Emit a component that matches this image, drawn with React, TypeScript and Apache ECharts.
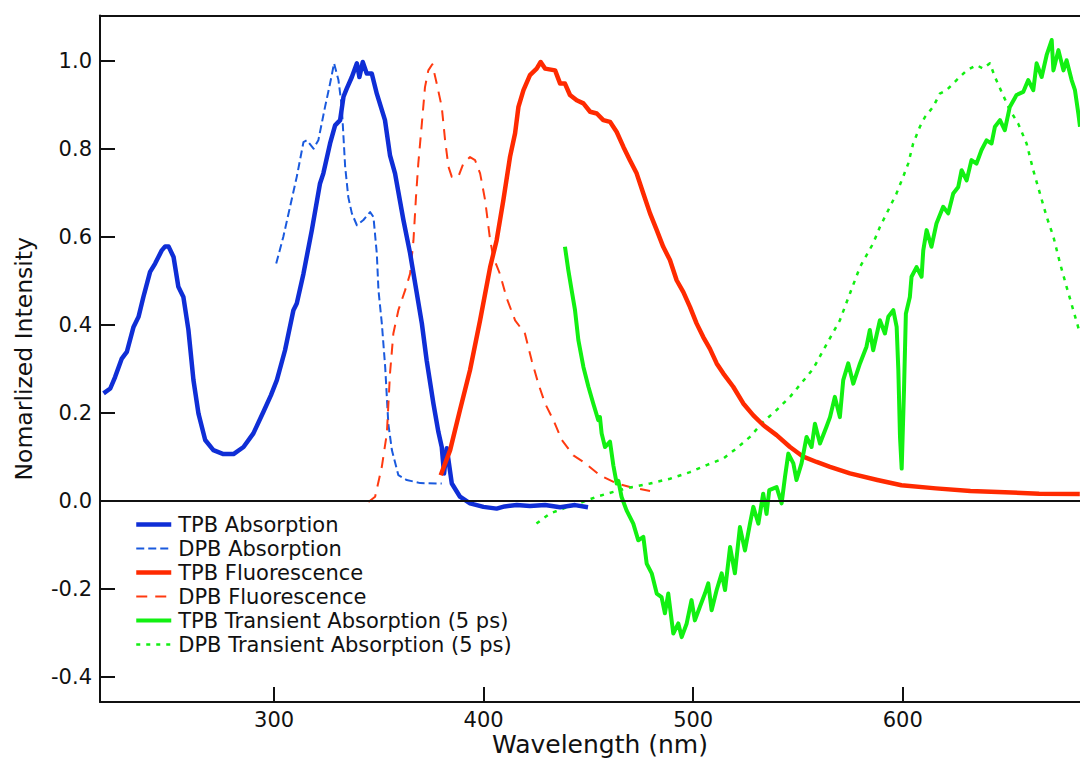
import React, { useEffect, useRef } from "react";
import * as echarts from "echarts";

// ---- Data (wavelength nm, normalized intensity) ----
const tpbAbsorption: [number, number][] = [
  [218.6, 0.244], [221.8, 0.255], [224.1, 0.281], [227.3, 0.323], [229.7, 0.338], [232.9, 0.395],
  [235.3, 0.418], [237.6, 0.463], [240.8, 0.520], [243.2, 0.539], [246.4, 0.569], [248.0, 0.578],
  [249.6, 0.578], [252.0, 0.554], [254.3, 0.486], [256.7, 0.463], [259.1, 0.388], [261.5, 0.274],
  [263.9, 0.198], [267.1, 0.138], [271.0, 0.115], [275.8, 0.106], [280.6, 0.106], [285.4, 0.122],
  [290.1, 0.153], [294.9, 0.202], [298.5, 0.240], [301.3, 0.274], [305.2, 0.342], [309.2, 0.433],
  [310.8, 0.448], [314.0, 0.516], [318.0, 0.615], [321.9, 0.721], [323.5, 0.744], [326.7, 0.812],
  [329.1, 0.853], [331.5, 0.865], [333.1, 0.918], [334.7, 0.937], [337.1, 0.963], [339.5, 0.994],
  [340.7, 0.963], [342.3, 0.997], [344.2, 0.971], [346.6, 0.971], [349.0, 0.925], [352.9, 0.865],
  [355.3, 0.785], [357.7, 0.744], [361.7, 0.638], [364.9, 0.562], [368.1, 0.471], [370.5, 0.403],
  [372.8, 0.319], [376.0, 0.221], [378.4, 0.156], [380.0, 0.122], [381.1, 0.062], [382.4, 0.119],
  [384.8, 0.039], [388.7, 0.009], [393.5, -0.006], [399.9, -0.014], [406.2, -0.018], [410.0, -0.013],
  [415.8, -0.010], [422.1, -0.012], [429.3, -0.010], [436.5, -0.015], [443.6, -0.010], [449.8, -0.015],
];

const dpbAbsorption: [number, number][] = [
  [301.0, 0.539], [304.4, 0.600], [307.6, 0.668], [310.8, 0.736], [314.0, 0.815], [315.6, 0.819],
  [318.8, 0.800], [321.1, 0.819], [324.3, 0.895], [326.7, 0.948], [328.6, 0.994], [330.7, 0.956],
  [332.3, 0.895], [333.9, 0.759], [335.4, 0.690], [337.1, 0.653], [339.5, 0.626], [342.6, 0.638],
  [345.8, 0.656], [347.4, 0.645], [349.0, 0.562], [349.8, 0.478], [351.4, 0.403], [353.0, 0.304],
  [354.5, 0.175], [356.2, 0.115], [359.3, 0.058], [363.3, 0.047], [369.7, 0.040], [380.0, 0.039],
];

const tpbFluorescence: [number, number][] = [
  [379.5, 0.058], [384.0, 0.115], [388.7, 0.206], [393.5, 0.297], [398.3, 0.410], [403.1, 0.531],
  [406.2, 0.592], [409.4, 0.683], [412.6, 0.782], [415.0, 0.835], [416.6, 0.895], [419.0, 0.933],
  [422.1, 0.967], [425.3, 0.982], [427.2, 0.997], [429.3, 0.982], [434.1, 0.978], [436.5, 0.948],
  [438.8, 0.948], [441.2, 0.922], [444.4, 0.910], [447.6, 0.903], [450.8, 0.884], [454.0, 0.880],
  [457.1, 0.865], [460.3, 0.861], [463.5, 0.838], [466.7, 0.804], [469.8, 0.774], [473.0, 0.744],
  [476.2, 0.698], [479.4, 0.653], [482.6, 0.615], [485.7, 0.577], [488.9, 0.547], [492.1, 0.501],
  [495.3, 0.474], [498.5, 0.440], [501.6, 0.403], [504.8, 0.372], [508.0, 0.345], [511.2, 0.312],
  [514.4, 0.289], [519.1, 0.259], [523.9, 0.221], [528.7, 0.194], [533.4, 0.172], [539.8, 0.149],
  [546.2, 0.122], [552.5, 0.100], [558.9, 0.088], [565.3, 0.077], [574.8, 0.062], [587.9, 0.047],
  [599.4, 0.035], [615.8, 0.028], [632.3, 0.022], [648.7, 0.019], [665.1, 0.016], [684.5, 0.015],
];

const dpbFluorescence: [number, number][] = [
  [345.0, -0.003], [348.2, 0.009], [351.4, 0.077], [353.8, 0.153], [355.3, 0.289], [356.9, 0.380],
  [359.3, 0.433], [362.5, 0.478], [364.9, 0.516], [366.5, 0.592], [367.7, 0.690], [368.8, 0.766],
  [370.5, 0.857], [372.0, 0.940], [373.6, 0.978], [375.5, 0.992], [377.6, 0.948], [380.0, 0.895],
  [381.6, 0.819], [383.2, 0.759], [384.8, 0.736], [387.9, 0.736], [390.3, 0.766], [393.5, 0.781],
  [395.9, 0.774], [398.3, 0.744], [400.7, 0.683], [403.1, 0.592], [404.6, 0.554], [407.8, 0.515],
  [411.0, 0.460], [415.0, 0.410], [419.7, 0.380], [422.9, 0.319], [426.1, 0.266], [429.3, 0.221],
  [433.3, 0.183], [437.3, 0.138], [442.8, 0.103], [447.6, 0.088], [455.5, 0.058], [463.5, 0.039],
  [469.8, 0.031], [479.4, 0.022],
];

const tpbTransient: [number, number][] = [
  [438.8, 0.577], [440.4, 0.524], [442.0, 0.478], [443.6, 0.433], [445.2, 0.365], [447.6, 0.304],
  [450.0, 0.259], [452.3, 0.221], [454.7, 0.183], [455.5, 0.190], [456.3, 0.153], [457.9, 0.122],
  [460.3, 0.134], [461.9, 0.080], [463.5, 0.039], [464.3, 0.045], [465.8, 0.009], [468.2, -0.022],
  [471.4, -0.052], [473.8, -0.090], [476.2, -0.082], [477.8, -0.143], [480.2, -0.165], [482.6, -0.211],
  [484.9, -0.219], [486.5, -0.256], [488.1, -0.211], [490.5, -0.302], [492.9, -0.279], [494.5, -0.310],
  [496.9, -0.279], [499.2, -0.226], [500.8, -0.272], [503.2, -0.241], [505.6, -0.211], [507.2, -0.188],
  [508.8, -0.249], [511.2, -0.203], [513.6, -0.165], [515.2, -0.203], [517.6, -0.105], [519.9, -0.165],
  [522.3, -0.060], [524.7, -0.113], [527.1, -0.052], [528.7, -0.014], [531.1, -0.052], [533.4, 0.016],
  [535.0, -0.030], [536.3, 0.024], [539.8, 0.031], [542.2, -0.006], [543.8, 0.054], [545.4, 0.107],
  [547.8, 0.085], [549.3, 0.047], [551.7, 0.085], [554.1, 0.145], [556.5, 0.122], [558.1, 0.175],
  [560.5, 0.130], [563.6, 0.168], [565.3, 0.190], [567.6, 0.236], [570.0, 0.190], [571.6, 0.274],
  [574.0, 0.312], [576.4, 0.266], [579.6, 0.312], [582.7, 0.350], [584.3, 0.388], [585.9, 0.342],
  [589.1, 0.410], [591.5, 0.380], [593.1, 0.418], [595.5, 0.433], [597.1, 0.395], [597.9, 0.297],
  [598.7, 0.145], [599.5, 0.073], [600.6, 0.251], [601.5, 0.425], [603.4, 0.463], [604.2, 0.509],
  [606.6, 0.531], [609.0, 0.509], [609.8, 0.569], [611.4, 0.615], [613.7, 0.577], [616.1, 0.630],
  [619.3, 0.668], [621.7, 0.653], [624.1, 0.698], [626.5, 0.713], [628.1, 0.751], [630.5, 0.728],
  [632.8, 0.774], [635.2, 0.766], [637.6, 0.797], [640.0, 0.819], [642.4, 0.812], [644.0, 0.850],
  [646.4, 0.865], [648.7, 0.842], [651.1, 0.895], [654.3, 0.922], [657.5, 0.929], [659.9, 0.956],
  [662.3, 0.933], [663.9, 0.994], [666.3, 0.963], [668.7, 1.013], [671.1, 1.047], [671.9, 0.978],
  [674.3, 1.024], [676.7, 0.978], [678.2, 1.001], [680.6, 0.956], [682.2, 0.933], [683.8, 0.880],
  [684.6, 0.850],
];

const dpbTransient: [number, number][] = [
  [425.2, -0.052], [431.7, -0.029], [438.0, -0.018], [446.0, -0.005], [454.0, 0.009], [461.9, 0.020],
  [469.8, 0.030], [479.4, 0.039], [488.9, 0.050], [498.5, 0.065], [506.4, 0.081], [514.4, 0.096],
  [520.7, 0.119], [527.1, 0.145], [533.4, 0.179], [539.8, 0.206], [546.2, 0.236], [550.9, 0.263],
  [557.3, 0.300], [563.6, 0.355], [570.0, 0.410], [574.8, 0.471], [579.6, 0.531], [585.9, 0.585],
  [589.1, 0.622], [593.9, 0.668], [597.0, 0.698], [600.2, 0.736], [602.6, 0.766], [605.0, 0.812],
  [608.2, 0.850], [610.6, 0.872], [614.5, 0.895], [617.7, 0.925], [620.9, 0.933], [625.7, 0.956],
  [630.5, 0.978], [635.2, 0.990], [638.4, 0.982], [641.6, 0.994], [644.0, 0.963], [647.2, 0.929],
  [651.1, 0.888], [655.1, 0.857], [659.1, 0.812], [662.3, 0.751], [665.5, 0.698], [668.7, 0.645],
  [671.9, 0.600], [675.1, 0.539], [678.2, 0.486], [681.4, 0.433], [684.6, 0.380],
];

const xTicks = [300, 400, 500, 600];
const yTicks = [-0.4, -0.2, 0, 0.2, 0.4, 0.6, 0.8, 1.0];

const FONT = "DejaVu Sans";

export default function App() {
  const ref = useRef<HTMLDivElement>(null);

  useEffect(() => {
    if (!ref.current) return;
    const chart = echarts.init(ref.current, undefined, { renderer: "svg" });
    const axisLineStyle = { color: "#111", width: 2 };
    const xMin = 216.9;
    const xMax = 684.6;

    const lineSeries = (
      name: string,
      data: [number, number][],
      color: string,
      width: number,
      type: any,
      z: number
    ) => ({
      name,
      type: "line",
      data,
      symbol: "none",
      showSymbol: false,
      smooth: false,
      z,
      itemStyle: { color },
      lineStyle: { color, width, type, cap: "butt", join: "round" },
      emphasis: { disabled: true },
    });

    const option: any = {
      animation: false,
      backgroundColor: "#fff",
      grid: {
        left: 100,
        right: 0,
        top: 15.6,
        bottom: 57,
        containLabel: false,
        outerBoundsMode: "none",
      },
      xAxis: [
        {
          type: "value",
          min: xMin,
          max: xMax,
          position: "bottom",
          name: "Wavelength (nm)",
          nameLocation: "middle",
          nameGap: 30,
          nameMoveOverlap: false,
          nameTextStyle: {
            fontFamily: FONT,
            fontSize: 25,
            lineHeight: 25,
            color: "#111",
            verticalAlign: "top",
            padding: [0, 0, 0, 20],
          },
          axisLine: { show: true, onZero: false, lineStyle: axisLineStyle },
          axisTick: { show: true, inside: true, length: 15, lineStyle: axisLineStyle, customValues: xTicks },
          axisLabel: {
            show: true,
            margin: 7,
            fontFamily: FONT,
            fontSize: 21,
            lineHeight: 21,
            color: "#111",
            customValues: xTicks,
            formatter: (v: number) => String(Math.round(v)),
          },
          splitLine: { show: false },
        },
        {
          type: "value",
          min: xMin,
          max: xMax,
          position: "top",
          axisLine: { show: true, onZero: false, lineStyle: axisLineStyle },
          axisTick: { show: false },
          axisLabel: { show: false },
          splitLine: { show: false },
        },
      ],
      yAxis: {
        type: "value",
        min: -0.4575,
        max: 1.1025,
        name: "Nomarlized Intensity",
        nameLocation: "middle",
        nameGap: 64,
        nameTextStyle: { fontFamily: FONT, fontSize: 23.5, color: "#111" },
        axisLine: { show: true, onZero: false, lineStyle: axisLineStyle },
        axisTick: { show: true, inside: true, length: 15, lineStyle: axisLineStyle, customValues: yTicks },
        axisLabel: {
          show: true,
          margin: 8,
          fontFamily: FONT,
          fontSize: 21,
          color: "#111",
          customValues: yTicks,
          formatter: (v: number) => v.toFixed(1),
        },
        splitLine: { show: false },
      },
      legend: {
        show: true,
        orient: "vertical",
        left: 134,
        top: 514,
        padding: 0,
        itemWidth: 35,
        itemHeight: 14,
        itemGap: 3,
        selectedMode: false,
        itemStyle: { color: "transparent", borderWidth: 0, opacity: 0 },
        lineStyle: { width: "inherit" },
        textStyle: { fontFamily: FONT, fontSize: 21, color: "#111", lineHeight: 20, padding: [0, 0, 0, 2] },
        data: [
          "TPB Absorption",
          "DPB Absorption",
          "TPB Fluorescence",
          "DPB Fluorescence",
          "TPB Transient Absorption (5 ps)",
          "DPB Transient Absorption (5 ps)",
        ],
      },
      series: [
        {
          ...lineSeries("DPB Absorption", dpbAbsorption, "#1a5ade", 2, [8, 4], 3),
        },
        {
          ...lineSeries("DPB Fluorescence", dpbFluorescence, "#ff3a10", 2, [11, 8], 3),
        },
        {
          ...lineSeries("DPB Transient Absorption (5 ps)", dpbTransient, "#12ee12", 2.5, [4, 6], 3),
        },
        {
          ...lineSeries("TPB Absorption", tpbAbsorption, "#0f2ed6", 4.5, "solid", 4),
          markLine: {
            silent: true,
            symbol: ["none", "none"],
            label: { show: false },
            lineStyle: { color: "#111", width: 2, type: "solid" },
            emphasis: { disabled: true },
            data: [{ yAxis: 0 }],
          },
        },
        {
          ...lineSeries("TPB Fluorescence", tpbFluorescence, "#ff2a00", 4.5, "solid", 4),
        },
        {
          ...lineSeries("TPB Transient Absorption (5 ps)", tpbTransient, "#12f012", 4, "solid", 4),
        },
      ],
    };

    chart.setOption(option);
    return () => chart.dispose();
  }, []);

  return (
    <div
      ref={ref}
      style={{ position: "absolute", left: 0, top: 0, width: 1080, height: 759, background: "#fff" }}
    />
  );
}
